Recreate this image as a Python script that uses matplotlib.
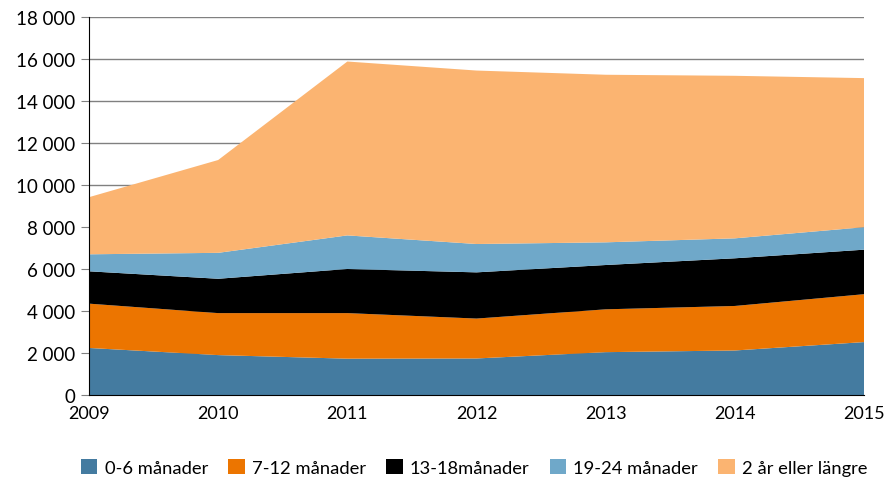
import matplotlib.pyplot as plt
import numpy as np

plt.rcParams['font.family'] = ['Lato', 'DejaVu Sans']

years = [2009, 2010, 2011, 2012, 2013, 2014, 2015]
labels = ['0-6 månader', '7-12 månader', '13-18månader', '19-24 månader', '2 år eller längre']

m0_6 = [2240, 1900, 1730, 1740, 2040, 2120, 2520]
m7_12 = [2110, 2000, 2170, 1900, 2040, 2120, 2280]
m13_18 = [1540, 1635, 2100, 2200, 2110, 2270, 2120]
m19_24 = [810, 1235, 1600, 1350, 1080, 950, 1070]
y2_plus = [2720, 4420, 8280, 8260, 7980, 7740, 7100]

colors = ['#447ba0', '#ec7500', '#000000', '#6fa8c9', '#fbb471']

fig = plt.figure(figsize=(8.87, 4.81), dpi=100)
ax = fig.add_axes([89/887, 1 - 396/481, (864-89)/887, (396-18)/481])

ax.stackplot(years, m0_6, m7_12, m13_18, m19_24, y2_plus,
             colors=colors, labels=labels, linewidth=0, zorder=2)

ax.set_xlim(2009, 2015)
ax.set_ylim(0, 18000)
yt = np.arange(0, 18001, 2000)
ax.set_yticks(yt)
ax.set_yticklabels(['{:,}'.format(v).replace(',', ' ') for v in yt])
ax.set_xticks(years)
ax.grid(axis='y', color='#808080', linewidth=1, zorder=1)
ax.set_axisbelow(True)

for s in ['top', 'right']:
    ax.spines[s].set_visible(False)
ax.spines['left'].set_color('black')
ax.spines['bottom'].set_color('black')
ax.spines['left'].set_zorder(3)
ax.spines['bottom'].set_zorder(3)

ax.tick_params(axis='y', length=6, color='#808080', labelsize=13.5, pad=4)
ax.tick_params(axis='x', length=0, labelsize=13, pad=7)

ax.legend(loc='upper center', bbox_to_anchor=(0.497, -0.125), ncol=5, frameon=False,
          fontsize=13.2, handlelength=0.9, handleheight=0.9, handletextpad=0.4,
          columnspacing=1.1)

fig.savefig('out.png', dpi=100)
